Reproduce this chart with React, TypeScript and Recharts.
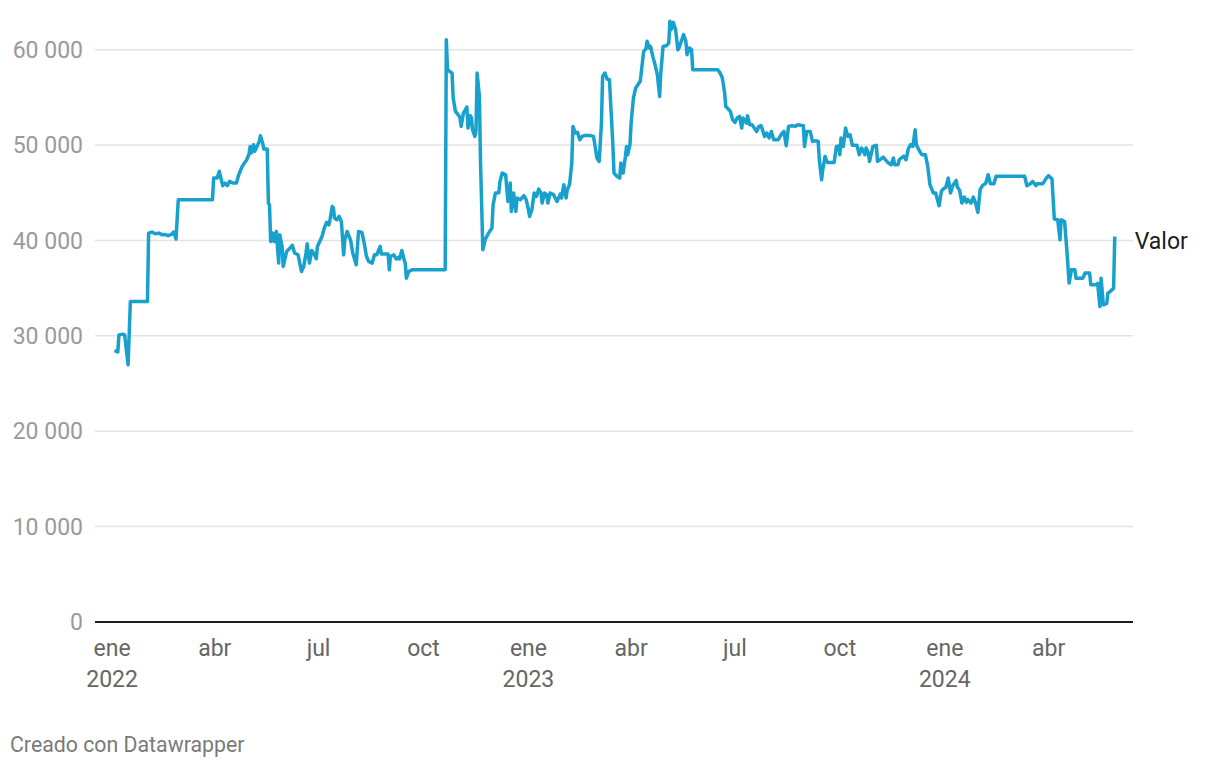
import { Line, LineChart, ReferenceLine, XAxis, YAxis } from 'recharts';

// days counted from 1 Jan 2022
const DAYS = [
  2, 5, 6, 10, 11, 14, 16, 31, 32, 35, 38, 41, 44, 46, 49, 52, 54, 56, 58, 88,
  89, 92, 94, 95, 97, 99, 101, 103, 106, 109, 111, 114, 117, 118, 120, 121, 122, 124, 125, 127,
  129, 130, 132, 133, 136, 137, 138, 139, 141, 142, 144, 146, 147, 149, 150, 153, 156, 158, 160, 163,
  166, 168, 170, 171, 173, 175, 177, 179, 180, 182, 184, 186, 188, 190, 191, 193, 194, 195, 197, 199,
  201, 203, 204, 206, 209, 211, 214, 216, 219, 221, 223, 225, 228, 230, 232, 235, 236, 239, 242, 243,
  244, 247, 249, 251, 252, 254, 256, 257, 258, 260, 263, 292, 293, 294, 298, 299, 301, 304, 305, 306,
  308, 311, 312, 314, 315, 316, 318, 319, 320, 322, 323, 325, 327, 330, 333, 334, 336, 339, 340, 342,
  345, 347, 349, 350, 352, 354, 355, 358, 361, 363, 365, 366, 368, 370, 372, 374, 376, 377, 379, 381,
  382, 384, 387, 390, 393, 394, 396, 398, 399, 401, 403, 404, 406, 408, 410, 412, 414, 419, 422, 423,
  425, 427, 429, 430, 432, 434, 436, 439, 440, 442, 445, 446, 448, 450, 451, 452, 454, 455, 457, 459,
  463, 466, 468, 469, 471, 472, 474, 476, 478, 480, 481, 483, 486, 488, 489, 490, 492, 494, 496, 497,
  499, 501, 503, 504, 506, 508, 509, 531, 533, 535, 537, 538, 540, 542, 544, 546, 548, 550, 552, 553,
  556, 557, 559, 561, 563, 565, 567, 569, 572, 574, 576, 578, 580, 584, 587, 589, 591, 593, 596, 599,
  601, 606, 607, 609, 612, 614, 617, 619, 620, 622, 623, 625, 627, 630, 633, 635, 637, 638, 639, 641,
  643, 645, 647, 649, 653, 655, 657, 658, 660, 661, 663, 664, 666, 667, 670, 671, 673, 676, 678, 680,
  683, 685, 686, 689, 690, 694, 696, 698, 700, 702, 704, 705, 708, 710, 713, 715, 717, 720, 722, 725,
  727, 728, 731, 733, 735, 737, 740, 741, 743, 745, 747, 749, 750, 753, 755, 757, 759, 761, 763, 766,
  768, 770, 773, 775, 800, 802, 805, 807, 810, 811, 816, 819, 821, 824, 826, 829, 831, 832, 835, 837,
  839, 841, 844, 845, 851, 853, 857, 858, 863, 864, 866, 867, 869, 872, 873, 875, 878, 879,
];

const VALUES = [
  28460, 28320, 30100, 30180, 30100, 26960, 33600, 33600, 40770, 40880, 40700, 40770, 40590, 40630, 40500, 40630, 40880, 40150, 44270, 44270,
  46540, 46540, 47240, 46720, 45740, 46020, 45740, 46190, 46020, 46020, 46890, 47760, 48290, 48460, 49060, 49860, 49160, 50040, 49340, 49860,
  50390, 50980, 50200, 49580, 49580, 43920, 43700, 39890, 40770, 39890, 40940, 37630, 40590, 39370, 37280, 38840, 39200, 39480, 38680, 38500,
  36750, 37280, 38680, 39650, 37630, 38950, 38600, 38080, 39370, 39890, 40420, 41300, 41890, 41640, 42170, 43570, 43400, 42340, 42170, 42520,
  41990, 38500, 40070, 40940, 40070, 38670, 37450, 40940, 40850, 39720, 38320, 37800, 37630, 38500, 38500, 39370, 38570, 38570, 38570, 36920,
  38320, 38500, 38060, 38230, 38060, 38950, 37970, 37630, 36050, 36750, 36920, 36920, 61050, 57900, 57550, 54930, 53530, 53080, 52860, 51960,
  53360, 53980, 51780, 53080, 52860, 51610, 50910, 51430, 57550, 55100, 48120, 39020, 40070, 40770, 41300, 43740, 44970, 45000, 46190, 47070,
  46890, 44090, 46020, 43040, 44970, 43040, 44450, 44270, 44690, 44270, 43220, 42520, 43220, 44970, 44620, 45390, 44970, 43920, 44970, 44800,
  43920, 44970, 44800, 44090, 44870, 44450, 45840, 44450, 45320, 45840, 48120, 51960, 51260, 51330, 50560, 50910, 51000, 51000, 50910, 50210,
  48640, 48290, 52310, 57200, 57550, 56920, 56850, 50040, 47070, 46790, 46540, 48120, 47070, 48810, 49860, 48990, 50040, 52310, 54930, 55980,
  56680, 59820, 60070, 60880, 60180, 60350, 59300, 58430, 57380, 55100, 57550, 60350, 60420, 60700, 62970, 62100, 62870, 62100, 60000, 60180,
  60880, 61580, 60880, 59480, 60180, 60000, 57900, 57900, 57550, 57030, 55450, 54050, 53800, 53530, 52660, 52380, 52840, 53010, 51780, 52840,
  52300, 53080, 52130, 52130, 51780, 51430, 51960, 52030, 50910, 51260, 50740, 51430, 50560, 50560, 51190, 51430, 49930, 51960, 52030, 51960,
  52130, 52030, 49860, 51430, 51430, 50390, 50460, 50390, 48460, 46370, 47410, 48810, 48180, 48180, 48180, 49860, 49900, 48990, 50740, 49860,
  51780, 50910, 51080, 49970, 49970, 48990, 49690, 49510, 48990, 49690, 49160, 48290, 49340, 49860, 49970, 48290, 48460, 48740, 48460, 48180,
  47940, 48640, 47940, 47940, 48460, 48850, 48460, 49600, 50040, 49860, 51610, 50040, 49340, 48990, 48990, 47800, 45840, 44970, 44970, 43640,
  45140, 45320, 45600, 46540, 44970, 45740, 46300, 45600, 45250, 43920, 44550, 43990, 44300, 43920, 44550, 43920, 42940, 45320, 45740, 46020,
  46890, 45950, 45950, 46720, 46720, 45740, 45950, 46190, 45740, 45950, 45950, 46540, 46790, 46440, 42240, 42170, 40070, 42170, 41990, 39000,
  35530, 36920, 36920, 36050, 36050, 36580, 36580, 35350, 35350, 35500, 33070, 36050, 33250, 33400, 34480, 34650, 35000, 40420,
];

const TICK_DAYS = [0, 90, 181, 273, 365, 455, 546, 638, 730, 821];
const TICK_MONTHS = ['ene', 'abr', 'jul', 'oct', 'ene', 'abr', 'jul', 'oct', 'ene', 'abr'];
const TICK_YEARS = ['2022', '', '', '', '2023', '', '', '', '2024', ''];
const Y_TICKS = [0, 10000, 20000, 30000, 40000, 50000, 60000];
const SERIES_NAME = 'Valor';

const data = DAYS.map((day, i) => ({ day, value: VALUES[i] }));

const FONT = 'Roboto, "Noto Sans", sans-serif';

const fmt = (v: number) => String(v).replace(/\B(?=(\d{3})+(?!\d))/g, ' ');

function DateTick({ x, y, payload }: any) {
  const i = TICK_DAYS.indexOf(payload.value);
  return (
    <text x={x} y={y} textAnchor="middle" fill="#666" fontSize={23} fontFamily={FONT}>
      <tspan x={x} dy={26}>{TICK_MONTHS[i]}</tspan>
      {TICK_YEARS[i] ? <tspan x={x} dy={31}>{TICK_YEARS[i]}</tspan> : null}
    </text>
  );
}

function EndLabel({ x, y, index }: any) {
  if (index !== data.length - 1) return null;
  return (
    <text x={x + 20} y={y + 13} fill="#1d1d1d" fontSize={23} fontFamily={FONT}>
      {SERIES_NAME}
    </text>
  );
}

export default function App() {
  return (
    <div style={{ position: 'absolute', left: 0, top: 0, width: 1220, height: 768, background: '#fff', fontFamily: FONT }}>
      <LineChart width={1220} height={768} data={data} margin={{ top: 2, right: 87, left: 0, bottom: 0 }}>
        <XAxis
          dataKey="day"
          type="number"
          domain={[-15, 895]}
          ticks={TICK_DAYS}
          tick={<DateTick />}
          axisLine={false}
          tickLine={false}
          height={146}
          interval={0}
        />
        <YAxis
          type="number"
          domain={[0, 65000]}
          ticks={Y_TICKS}
          tickFormatter={fmt}
          tick={{ fill: '#9a9a9a', fontSize: 23, fontFamily: FONT }}
          axisLine={false}
          tickLine={false}
          tickMargin={6}
          width={95}
        />
        {Y_TICKS.filter((t) => t > 0).map((t) => (
          <ReferenceLine key={t} y={t} stroke="#e3e3e3" strokeWidth={1.5} />
        ))}
        <ReferenceLine y={0} stroke="#1d1d1d" strokeWidth={2} />
        <Line
          type="linear"
          dataKey="value"
          stroke="#18a1cd"
          strokeWidth={3.5}
          dot={false}
          strokeLinejoin="round"
          isAnimationActive={false}
          label={<EndLabel />}
        />
      </LineChart>
      <div style={{ position: 'absolute', left: 10, top: 732, fontSize: 21.3, color: '#7a7a7a', fontFamily: FONT }}>
        Creado con Datawrapper
      </div>
    </div>
  );
}
